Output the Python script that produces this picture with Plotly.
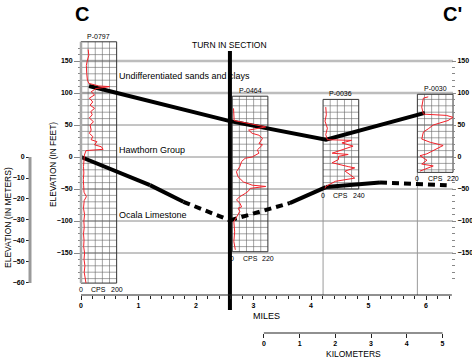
import plotly.graph_objects as go

# ---------------- data ----------------
mile_ticks = [0, 1, 2, 3, 4, 5, 6]
km_ticks = [0, 1, 2, 3, 4, 5]
feet_ticks = [-150, -100, -50, 0, 50, 100, 150]
meter_ticks = [0, -10, -20, -30, -40, -50, -60]

well_names = ["P-0797", "P-0464", "P-0036", "P-0030"]
well_x = [0.0, 2.63, 4.21, 5.85]          # miles (left edge of log)
well_top = [180, 95, 90, 98]              # feet
well_bottom = [-197, -148, -50, -24]      # feet
well_cps_max = [200, 220, 240, 220]

p0797_elev = [168, 159, 149, 143, 131, 120, 115, 111, 110, 107, 102, 97, 92, 86, 81, 76, 71, 66, 61, 55,
              50, 42, 37, 32, 27, 24, 19, 16, 12, 11, 10, 3, -5, -15, -25, -35, -45, -55, -62, -68,
              -80, -90, -100, -110, -120, -130, -140, -150, -160, -170, -180, -190, -197]
p0797_cps = [40, 44, 34, 30, 32, 36, 44, 100, 160, 85, 57, 76, 47, 66, 51, 76, 55, 63, 47, 70,
             51, 57, 47, 66, 57, 89, 76, 114, 124, 85, 28, 19, 15, 14, 16, 13, 15, 17, 30, 18,
             14, 20, 16, 18, 14, 17, 15, 20, 17, 22, 18, 24, 28]

p0464_elev = [76, 60, 57, 47, 45, 42, 37, 34, 29, 21, 19, 11, 6, 0, -2, -7, -15, -23, -31, -39,
              -44, -46, -49, -53, -57, -62, -67, -72, -78, -80, -85, -93, -101, -117, -132, -145]
p0464_cps = [8, 8, 12, 207, 165, 101, 123, 165, 187, 165, 187, 155, 165, 123, 80, 58, 47, 26, 36, 69,
             123, 207, 111, 101, 80, 47, 26, 47, 58, 36, 47, 26, 10, 15, 10, 19]

p0036_elev = [78, 66, 56, 45, 35, 27, 26, 22, 17, 11, 6, 4, 1, -4, -9, -15, -17, -22, -33, -38, -46, -49]
p0036_cps = [18, 22, 13, 29, 18, 29, 192, 127, 202, 127, 61, 169, 104, 104, 61, 169, 213, 148, 213, 83, 18, 13]

p0030_elev = [94, 92, 78, 67, 65, 62, 57, 50, 44, 39, 28, 23, 18, 10, 5, 2, -5, -11, -14, -19, -22]
p0030_cps = [67, 37, 27, 37, 179, 220, 189, 98, 67, 37, 27, 79, 159, 98, 59, 16, 59, 27, 98, 47, 16]

hawthorn_x = [0.14, 2.59, 4.26, 5.98]
hawthorn_elev = [111, 56, 27, 69]

ocala_x = [0.0, 1.2, 1.78, 2.59, 3.63, 4.26, 5.2, 6.36]
ocala_elev = [0, -44, -70, -99, -72, -47, -40, -44]
ocala_dashed = [False, False, True, True, False, False, True]

turn_x = 2.59
unit_labels = ["Undifferentiated sands and clays", "Hawthorn Group", "Ocala Limestone"]
unit_label_elev = [126, 11, -91]

# ---------------- geometry ----------------
W, H = 472, 361
PX_MILE = 57.5
X0 = 81
PX_FT = 0.64
Y0 = 157
KM_PER_MILE = 1.609344
KM_ORIGIN_MILE = 3.18

x_range = [-X0 / PX_MILE, (W - X0) / PX_MILE]
y_range = [(Y0 - H) / PX_FT, Y0 / PX_FT]
m_range = [v * 0.3048 for v in y_range]
km_range = [(v - KM_ORIGIN_MILE) * KM_PER_MILE for v in x_range]
AXIS_FT = (Y0 - 295) / PX_FT
WELL_W = 0.62

FONT = "Liberation Sans, Arial, Helvetica, sans-serif"
INK = "#000000"


def px_to_paper_y(py):
    return 1 - py / H


def px_to_paper_x(px):
    return px / W


fig = go.Figure()

shapes = []
for v in [150, 100]:
    shapes.append(dict(type="line", xref="x", yref="y", x0=0, x1=6.47, y0=v, y1=v,
                       line=dict(color="#bdbdbd", width=2.5), layer="below"))
for v in [50, 0, -50, -100, -150]:
    shapes.append(dict(type="line", xref="x", yref="y", x0=0, x1=6.47, y0=v, y1=v,
                       line=dict(color="#8a8a8a", width=1), layer="below"))
for i in [2, 3]:
    shapes.append(dict(type="line", xref="x", yref="y", x0=well_x[i], x1=well_x[i],
                       y0=well_bottom[i], y1=AXIS_FT, line=dict(color="#9a9a9a", width=1), layer="below"))
shapes.append(dict(type="line", xref="x", yref="y", x0=0, x1=0, y0=well_top[0], y1=well_bottom[0],
                   line=dict(color="#a8a8a8", width=2.5)))
shapes.append(dict(type="line", xref="x", yref="y", x0=0, x1=6.45, y0=AXIS_FT, y1=AXIS_FT,
                   line=dict(color="#222", width=1.2)))
shapes.append(dict(type="line", xref="x2", yref="paper", x0=0, x1=5,
                   y0=px_to_paper_y(333), y1=px_to_paper_y(333), line=dict(color="#222", width=1.2)))
shapes.append(dict(type="line", xref="paper", yref="y3", x0=px_to_paper_x(30), x1=px_to_paper_x(30),
                   y0=0, y1=-60, line=dict(color="#9a9a9a", width=3)))

# well grids and boxes
gx, gy, bx, by = [], [], [], []
for i in range(len(well_names)):
    l, r = well_x[i], well_x[i] + WELL_W
    t, b = well_top[i], well_bottom[i]
    for k in range(1, 5):
        xx = l + WELL_W * k / 5
        gx += [xx, xx, None]
        gy += [t, b, None]
    e = (int(b // 10) + 1) * 10
    while e < t:
        gx += [l, r, None]
        gy += [e, e, None]
        e += 10
    bx += [l, r, r, l, l, None]
    by += [t, t, b, b, t, None]
fig.add_trace(go.Scatter(x=gx, y=gy, mode="lines", line=dict(color="#666", width=0.6),
                         hoverinfo="skip", showlegend=False))
fig.add_trace(go.Scatter(x=bx, y=by, mode="lines", line=dict(color="#333", width=1),
                         hoverinfo="skip", showlegend=False))

# boundary lines
fig.add_trace(go.Scatter(x=hawthorn_x, y=hawthorn_elev, mode="lines",
                         line=dict(color="black", width=4), showlegend=False))
for i in range(len(ocala_x) - 1):
    fig.add_trace(go.Scatter(x=ocala_x[i:i + 2], y=ocala_elev[i:i + 2], mode="lines",
                             line=dict(color="black", width=4,
                                       dash="7px,5px" if ocala_dashed[i] else "solid"),
                             showlegend=False))

# gamma logs
logs = [(p0797_elev, p0797_cps), (p0464_elev, p0464_cps), (p0036_elev, p0036_cps), (p0030_elev, p0030_cps)]
for i, (el, cp) in enumerate(logs):
    xs = [well_x[i] + c / well_cps_max[i] * WELL_W for c in cp]
    fig.add_trace(go.Scatter(x=xs, y=el, mode="lines", line=dict(color="#f2222a", width=1),
                             showlegend=False))

# turn in section
fig.add_trace(go.Scatter(x=[turn_x, turn_x], y=[(Y0 - 51) / PX_FT, (Y0 - 310) / PX_FT], mode="lines",
                         line=dict(color="black", width=4), showlegend=False))

# invisible traces to host extra axes
fig.add_trace(go.Scatter(x=[0, 5], y=[0, 0], xaxis="x2", yaxis="y", mode="markers",
                         marker=dict(opacity=0), showlegend=False, hoverinfo="skip"))
fig.add_trace(go.Scatter(x=[0, 1], y=[0, 0], xaxis="x", yaxis="y2", mode="markers",
                         marker=dict(opacity=0), showlegend=False, hoverinfo="skip"))
fig.add_trace(go.Scatter(x=[0, 1], y=[0, -60], xaxis="x", yaxis="y3", mode="markers",
                         marker=dict(opacity=0), showlegend=False, hoverinfo="skip"))

ann = []
small = dict(family=FONT, size=7, color=INK)
for i, name in enumerate(well_names):
    cx = well_x[i] + WELL_W / 2
    ann.append(dict(x=cx, y=well_top[i], xref="x", yref="y", text=name, showarrow=False,
                    xanchor="center", yanchor="bottom", font=small))
    for frac, txt in [(0, "0"), (0.5, "CPS"), (1, str(well_cps_max[i]))]:
        ann.append(dict(x=well_x[i] + frac * WELL_W, y=well_bottom[i], xref="x", yref="y", text=txt,
                        showarrow=False, xanchor="center", yanchor="top", yshift=-1, font=small))
for txt, ev in zip(unit_labels, unit_label_elev):
    ann.append(dict(x=(119 - X0) / PX_MILE, y=ev, xref="x", yref="y", text=txt, showarrow=False,
                    xanchor="left", yanchor="middle", xshift=-2, font=dict(family=FONT, size=9, color=INK)))
ann.append(dict(x=turn_x, y=(Y0 - 45) / PX_FT, xref="x", yref="y", text="TURN IN SECTION",
                showarrow=False, xanchor="center", yanchor="middle",
                font=dict(family=FONT, size=8.5, color=INK)))


def paper_label(px, py, text, size, angle=0):
    return dict(x=px_to_paper_x(px), y=px_to_paper_y(py), xref="paper", yref="paper", text=text,
                showarrow=False, xanchor="center", yanchor="middle", textangle=angle,
                font=dict(family=FONT, size=size, color=INK))


ann.append(paper_label(82, 14, "<b>C</b>", 20))
ann.append(paper_label(452, 14, "<b>C'</b>", 20))
ann.append(paper_label(266, 316, "MILES", 9))
ann.append(paper_label(353, 354, "KILOMETERS", 8.5))
ann.append(paper_label(53, 165, "ELEVATION (IN FEET)", 8.3, -90))
ann.append(paper_label(8, 218, "ELEVATION (IN METERS)", 8.5, -90))

tickfont = dict(family=FONT, size=7, color=INK, weight="bold")
fig.update_layout(
    width=W, height=H, margin=dict(l=0, r=0, t=0, b=0, pad=0),
    paper_bgcolor="white", plot_bgcolor="white",
    showlegend=False, shapes=shapes, annotations=ann,
    xaxis=dict(domain=[0, 1], range=x_range, anchor="free", position=px_to_paper_y(295),
               tickvals=mile_ticks, ticks="outside", ticklen=4, tickcolor="#222",
               showline=False, showgrid=False, zeroline=False, tickfont=tickfont, automargin=False,
               minor=dict(tickvals=[v / 5 for v in range(0, 33)], ticks="outside", ticklen=3,
                          tickcolor="#222", showgrid=False)),
    xaxis2=dict(overlaying="x", range=km_range, anchor="free", position=px_to_paper_y(333),
                tickvals=km_ticks, ticks="outside", ticklen=4, tickcolor="#222",
                showline=False, showgrid=False, zeroline=False, tickfont=tickfont, automargin=False),
    yaxis=dict(domain=[0, 1], range=y_range, anchor="free", position=px_to_paper_x(81),
               tickvals=feet_ticks, ticks="outside", ticklen=7, tickcolor="#888",
               showline=False, showgrid=False, zeroline=False, tickfont=tickfont, automargin=False,
               minor=dict(tickvals=list(range(-190, 180, 10)), ticks="outside", ticklen=3,
                          tickcolor="#888", showgrid=False)),
    yaxis2=dict(overlaying="y", side="right", range=y_range, anchor="free", position=px_to_paper_x(451),
                tickvals=feet_ticks, ticks="outside", ticklen=4, tickcolor="#888",
                showline=False, showgrid=False, zeroline=False, tickfont=tickfont, automargin=False,
                minor=dict(tickvals=list(range(-190, 150, 10)), ticks="outside", ticklen=3,
                           tickcolor="#888", showgrid=False)),
    yaxis3=dict(overlaying="y", side="left", range=m_range, anchor="free", position=px_to_paper_x(30),
                tickvals=meter_ticks, ticks="outside", ticklen=4, tickcolor="#222",
                showline=False, showgrid=False, zeroline=False, tickfont=tickfont, automargin=False),
)

fig.write_html("out.html", config={"displayModeBar": False},
               post_script="document.body.style.margin='0px';")
